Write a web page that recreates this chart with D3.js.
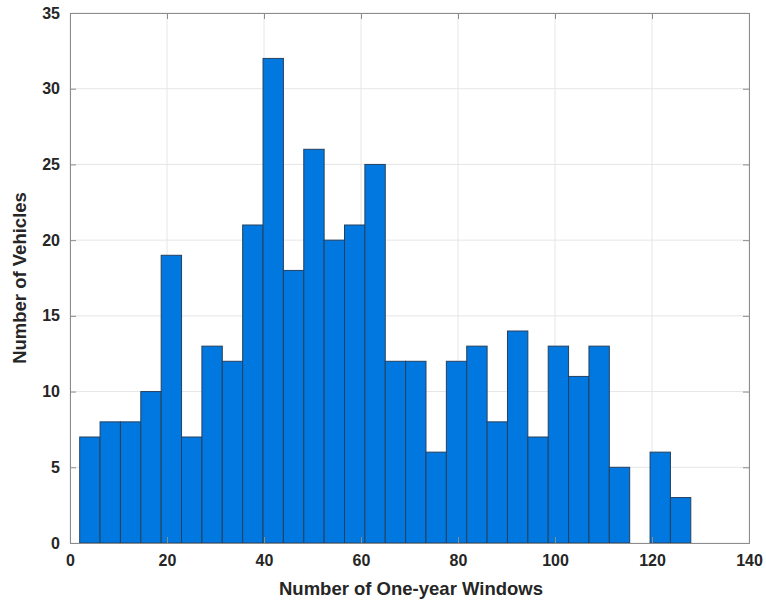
<!DOCTYPE html>
<html>
<head>
<meta charset="utf-8">
<script src="https://cdn.jsdelivr.net/npm/d3@7"></script>
<style>
  html, body { margin: 0; padding: 0; background: #fff; }
  svg text { font-family: "Liberation Sans", Arial, sans-serif; font-weight: bold; fill: #262626; }
</style>
</head>
<body>
<svg id="chart" width="766" height="602"></svg>
<script>
// Histogram bins: first edge and bin width (number of windows)
const binStart = 2;
const binWidth = 4.2;
// Vehicle counts per bin
const counts = [7, 8, 8, 10, 19, 7, 13, 12, 21, 32, 18, 26, 20, 21, 25, 12, 12, 6, 12, 13, 8, 14, 7, 13, 11, 13, 5, 0, 6, 3];
const xTicks = [0, 20, 40, 60, 80, 100, 120, 140];
const yTicks = [0, 5, 10, 15, 20, 25, 30, 35];
const xLabel = "Number of One-year Windows";
const yLabel = "Number of Vehicles";

const bins = counts.map((c, i) => ({ x0: binStart + i * binWidth, x1: binStart + (i + 1) * binWidth, n: c }));

const margin = { left: 70, right: 17, top: 13, bottom: 59 };
const W = 766, H = 602;
const svg = d3.select("#chart");
const x = d3.scaleLinear().domain([0, 140]).range([margin.left, W - margin.right]);
const y = d3.scaleLinear().domain([0, 35]).range([H - margin.bottom, margin.top]);

// grid
const grid = svg.append("g");
grid.selectAll("line.gx").data(xTicks).join("line")
  .attr("x1", d => x(d)).attr("x2", d => x(d))
  .attr("y1", y(0)).attr("y2", y(35))
  .attr("stroke", "#e6e6e6").attr("stroke-width", 1);
grid.selectAll("line.gy").data(yTicks).join("line")
  .attr("x1", x(0)).attr("x2", x(140))
  .attr("y1", d => y(d)).attr("y2", d => y(d))
  .attr("stroke", "#e6e6e6").attr("stroke-width", 1);

// bars
svg.append("g").selectAll("rect").data(bins.filter(b => b.n > 0)).join("rect")
  .attr("x", d => x(d.x0))
  .attr("width", d => x(d.x1) - x(d.x0))
  .attr("y", d => y(d.n))
  .attr("height", d => y(0) - y(d.n))
  .attr("fill", "#0078e0")
  .attr("stroke", "#25405e")
  .attr("stroke-width", 1);

// axes (ticks pointing inward, box on)
const axisColor = "#8c8c8c";
svg.append("g").attr("transform", `translate(0,${y(0)})`)
  .call(d3.axisBottom(x).tickValues(xTicks).tickSize(-6).tickPadding(12));
svg.append("g").attr("transform", `translate(${x(0)},0)`)
  .call(d3.axisLeft(y).tickValues(yTicks).tickSize(-6).tickPadding(10));
svg.append("g").attr("transform", `translate(0,${y(35)})`)
  .call(d3.axisTop(x).tickValues(xTicks).tickSize(-6).tickFormat(""));
svg.append("g").attr("transform", `translate(${x(140)},0)`)
  .call(d3.axisRight(y).tickValues(yTicks).tickSize(-6).tickFormat(""));
svg.selectAll(".domain").attr("stroke", axisColor);
svg.selectAll(".tick line").attr("stroke", axisColor);
svg.selectAll(".tick text").style("font-size", "16px").style("font-weight", "bold")
  .style("font-family", "'Liberation Sans', Arial, sans-serif").attr("fill", "#262626");

// axis titles
svg.append("text").attr("x", 411).attr("y", 595)
  .attr("text-anchor", "middle").style("font-size", "18.5px").text(xLabel);
svg.append("text").attr("transform", `translate(26,${(y(0) + y(35)) / 2}) rotate(-90)`)
  .attr("text-anchor", "middle").style("font-size", "18.5px").text(yLabel);
</script>
</body>
</html>
